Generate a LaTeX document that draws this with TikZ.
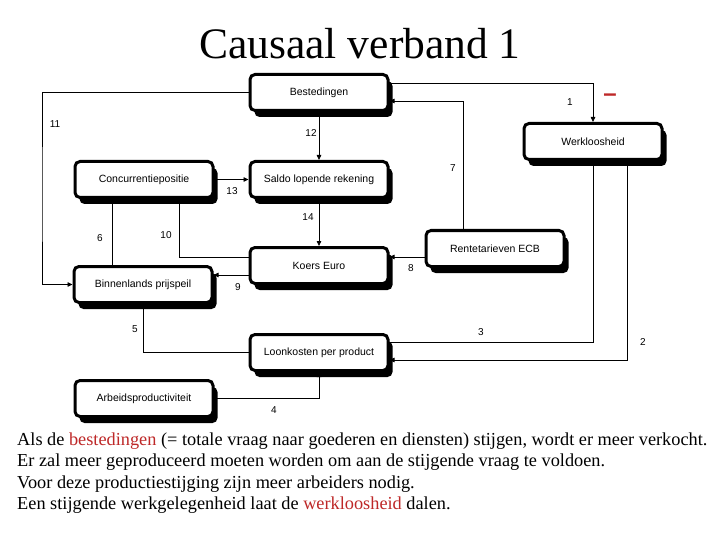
\documentclass[tikz,border=0pt]{standalone}
\usepackage{fontspec}
\setmainfont{Liberation Serif}
\newfontfamily\arialfont{Liberation Sans}
\usetikzlibrary{arrows.meta,shadows}
\definecolor{redtxt}{RGB}{190,40,40}
\begin{document}
\begin{tikzpicture}[x=1pt,y=-1pt,
  box/.style={draw,fill=white,line width=3pt,rounded corners=5pt,
    minimum width=138pt,minimum height=36pt,inner sep=0pt,
    font=\arialfont\fontsize{10.5}{12}\selectfont,
    drop shadow={shadow xshift=4.5pt,shadow yshift=-6.5pt,fill=black,opacity=1}},
  con/.style={line width=0.8pt},
  arr/.style={con,-{Triangle[length=5pt,width=4.5pt]}},
  lbl/.style={font=\arialfont\fontsize{10}{12}\selectfont,inner sep=0pt},
  txt/.style={anchor=base west,inner sep=0pt,font=\fontsize{18.3}{20}\selectfont}]
\useasboundingbox[fill=white] (0,0) rectangle (720,540);

\node[anchor=base,inner sep=0pt,font=\fontsize{43.5}{50}\selectfont] (title) at (360,58.5) {Causaal verband 1};

\node[box] (B) at (319,92.5) {Bestedingen};
\node[box] (W) at (593,141.5) {Werkloosheid};
\node[box] (C) at (144,179.5) {Concurrentiepositie};
\node[box] (S) at (319,179.5) {Saldo lopende rekening};
\node[box] (R) at (495,248.5) {Rentetarieven ECB};
\node[box] (K) at (319,265.5) {Koers Euro};
\node[box] (P) at (143,284.5) {Binnenlands prijspeil};
\node[box] (L) at (319,352.5) {Loonkosten per product};
\node[box] (A) at (144,398.5) {Arbeidsproductiviteit};

\coordinate (c11) at (42,200);
\draw[arr] ([yshift=9.5pt]B.east) -| (W.north);
\draw[arr] ([xshift=34pt]W.south) |- ([yshift=-7.5pt]L.east);
\draw[arr] ([yshift=10.5pt]L.east) -| (W.south);
\draw[arr] (A.east) -| (L.south);
\draw[con] (P.south) |- (L.west);
\draw[con] ([xshift=-32pt]C.south) -- ([xshift=-32pt]C.south |- P.north);
\draw[arr] ([xshift=-32pt]R.north) |- ([yshift=-8.5pt]B.east);
\draw[arr] ([yshift=-8.5pt]R.west) -- ([yshift=-8.5pt]R.west -| K.east);
\draw[arr] ([yshift=-9.5pt]K.west) -- ([yshift=-9.5pt]K.west -| P.east);
\draw[con] ([xshift=35pt]C.south) |- ([yshift=8.5pt]K.west);
\draw[arr] (B.west) -| (c11) |- (P.west);
\draw[arr] (B.south) -- (S.north);
\draw[arr] (C.east) -- (S.west);
\draw[arr] (S.south) -- (K.north);

\node[lbl] (l1) at (570,102) {1};
\node[lbl] (l2) at (643,342) {2};
\node[lbl] (l3) at (481,332) {3};
\node[lbl] (l4) at (274,410) {4};
\node[lbl] (l5) at (135,329) {5};
\node[lbl] (l6) at (100,238) {6};
\node[lbl] (l7) at (453,168) {7};
\node[lbl] (l8) at (411,268) {8};
\node[lbl] (l9) at (238,287) {9};
\node[lbl] (l10) at (166,235) {10};
\node[lbl] (l11) at (55,124) {11};
\node[lbl] (l12) at (311,133) {12};
\node[lbl] (l13) at (232,191) {13};
\node[lbl] (l14) at (308,217) {14};
\node[inner sep=0pt,text=redtxt,font=\arialfont\bfseries\fontsize{24}{24}\selectfont] (minus) at (610,98) {–};

\node[txt] (t1) at (17,445) {Als de \textcolor{redtxt}{bestedingen} (= totale vraag naar goederen en diensten) stijgen, wordt er meer verkocht.};
\node[txt] (t2) at (17,466.5) {Er zal meer geproduceerd moeten worden om aan de stijgende vraag te voldoen.};
\node[txt] (t3) at (17,488) {Voor deze productiestijging zijn meer arbeiders nodig.};
\node[txt] (t4) at (17,509.5) {Een stijgende werkgelegenheid laat de \textcolor{redtxt}{werkloosheid} dalen.};
\end{tikzpicture}
\end{document}
